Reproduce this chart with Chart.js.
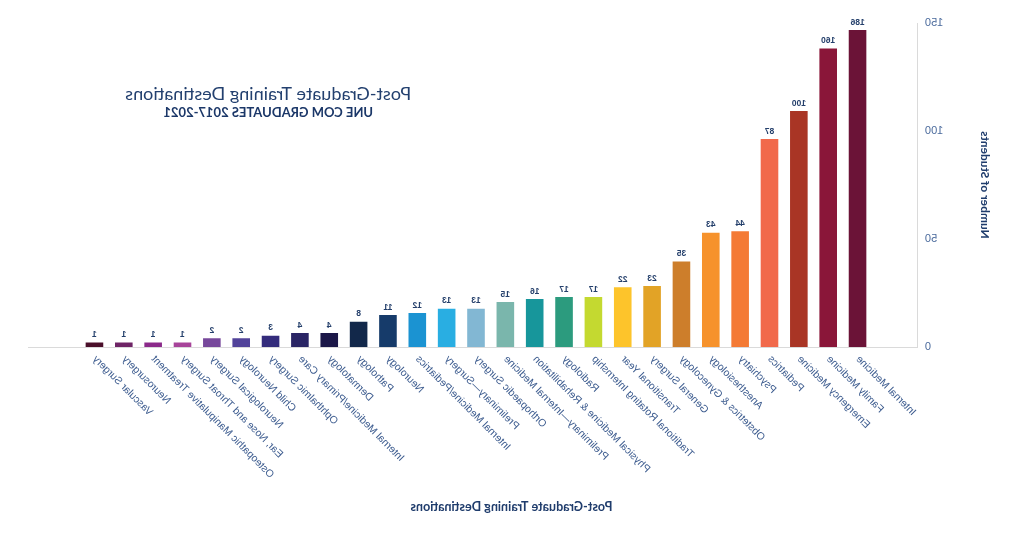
<!DOCTYPE html>
<html>
<head>
<meta charset="utf-8">
<script src="https://cdn.jsdelivr.net/npm/chart.js@4.4.1/dist/chart.umd.min.js"></script>
<style>
  html, body { margin: 0; padding: 0; background: #ffffff; }
  #wrap { width: 1024px; height: 533px; transform: scaleX(-1); transform-origin: 50% 50%; }
  canvas { display: block; }
</style>
</head>
<body>
<div id="wrap"><canvas id="chart" width="1024" height="533"></canvas></div>
<script>
// ---- Data ----
const categories = [
  "Internal Medicine", "Family Medicine", "Emergency Medicine", "Pediatrics",
  "Psychiatry", "Anesthesiology", "Obstetrics & Gynecology", "General Surgery",
  "Transitional Year", "Traditional Rotating Internship", "Radiology",
  "Physical Medicine & Rehabilitation", "Preliminary\u2014Internal Medicine",
  "Orthopaedic Surgery", "Preliminary\u2014Surgery", "Internal Medicine/Pediatrics",
  "Neurology", "Pathology", "Dermatology", "Internal Medicine/Primary Care",
  "Ophthalmic Surgery", "Child Neurology", "Neurological Surgery",
  "Ear, Nose and Throat Surgery", "Osteopathic Manipulative Treatment",
  "Neurosurgery", "Vascular Surgery"
];
// printed counts above each bar
const studentCounts = [186, 160, 100, 87, 44, 43, 35, 23, 22, 17, 17, 16, 15, 13, 13, 12, 11, 8, 4, 4, 3, 2, 2, 1, 1, 1, 1];
// bar heights as drawn against the value axis (0-150)
const barHeights = [147.2, 138.7, 109.7, 96.8, 54.0, 53.4, 40.0, 28.7, 28.1, 23.6, 23.6, 22.7, 21.3, 18.2, 18.2, 16.2, 15.3, 12.2, 6.9, 6.9, 5.7, 4.5, 4.5, 2.6, 2.6, 2.6, 2.6];
const barColors = [
  "#6b1337", "#8a1639", "#a93525", "#f1694b", "#f47a35", "#f6922c", "#cd7e2b",
  "#e2a326", "#fdc42b", "#c4d930", "#2c9b7e", "#17969b", "#7ab6ac", "#82b7d3",
  "#29aee2", "#1b93d2", "#163b6a", "#12284a", "#1b1748", "#2a2565", "#342c7c",
  "#52439a", "#77489b", "#a7449a", "#8b2a8a", "#6e2466", "#4a0f2a"
];
const yTickValues = [0, 50, 100, 150];
const chartTitle = "Post-Graduate Training Destinations";
const chartSubtitle = "UNE COM GRADUATES 2017-2021";
const xAxisTitle = "Post-Graduate Training Destinations";
const yAxisTitle = "Number of Students";

// ---- Plugins ----
const valueLabels = {
  id: 'valueLabels',
  afterDatasetsDraw(chart) {
    const ctx = chart.ctx;
    const meta = chart.getDatasetMeta(0);
    ctx.save();
    ctx.font = 'bold 8.5px "Liberation Sans", Arial, sans-serif';
    ctx.fillStyle = '#243f6b';
    ctx.textAlign = 'center';
    ctx.textBaseline = 'bottom';
    meta.data.forEach((bar, i) => {
      ctx.fillText(String(studentCounts[i]), bar.x, bar.y - 2.5);
    });
    ctx.restore();
  }
};

const textBlocks = {
  id: 'textBlocks',
  afterDraw(chart) {
    const ctx = chart.ctx;
    const cx = chart.width * 0.738;
    ctx.save();
    ctx.textAlign = 'center';
    ctx.textBaseline = 'middle';
    ctx.fillStyle = '#23406f';
    ctx.font = '18px Lato, sans-serif';
    ctx.fillText(chartTitle, cx, 94);
    ctx.font = 'bold 13px Lato, sans-serif';
    ctx.fillStyle = '#1b3768';
    ctx.fillText(chartSubtitle, cx, 113);
    // x axis title, centred on the canvas
    ctx.font = 'bold 12.5px Lato, sans-serif';
    ctx.fillStyle = '#1f3c6c';
    ctx.fillText(xAxisTitle, chart.width / 2 + 0.5, 507);
    ctx.restore();
  }
};

// ---- Chart ----
new Chart(document.getElementById('chart'), {
  type: 'bar',
  data: {
    datasets: [{
      data: barHeights.map((v, i) => ({ x: i, y: v })),
      backgroundColor: barColors,
      borderColor: 'rgba(255,255,255,0.35)',
      borderWidth: 1,
      barPercentage: 0.668,
      categoryPercentage: 1.0
    }]
  },
  options: {
    responsive: false,
    animation: false,
    devicePixelRatio: 1,
    layout: { padding: { top: 23, right: 29, bottom: 33.4, left: 0 } },
    plugins: {
      legend: { display: false },
      tooltip: { enabled: false },
      title: { display: false }
    },
    scales: {
      x: {
        type: 'linear',
        offset: false,
        min: -2.06,
        max: 28.23,
        grid: { display: false, drawTicks: false },
        border: { display: true, color: '#dadada', width: 1 },
        afterBuildTicks(scale) { scale.ticks = categories.map((_, i) => ({ value: i })); },
        afterFit(scale) { scale.height = 152.6; },
        ticks: {
          autoSkip: false,
          minRotation: 45,
          maxRotation: 45,
          padding: 6,
          color: '#3d5c8f',
          font: { family: '"Liberation Sans", Arial, sans-serif', size: 10.5 },
          callback: (v) => categories[v] !== undefined ? categories[v] : ''
        }
      },
      y: {
        min: 0,
        max: 150,
        grid: { display: false, drawTicks: false },
        border: { display: true, color: '#dadada', width: 1 },
        afterBuildTicks(scale) { scale.ticks = yTickValues.map(v => ({ value: v })); },
        afterFit(scale) { scale.width = 106; },
        ticks: {
          padding: 7,
          color: '#4a6a9c',
          font: { family: '"Liberation Sans", Arial, sans-serif', size: 11 }
        },
        title: {
          display: true,
          text: yAxisTitle,
          color: '#1f3c6c',
          font: { family: 'Lato, sans-serif', size: 12, weight: 'bold' },
          padding: { top: 32, bottom: 0 }
        }
      }
    }
  },
  plugins: [valueLabels, textBlocks]
});
</script>
</body>
</html>
